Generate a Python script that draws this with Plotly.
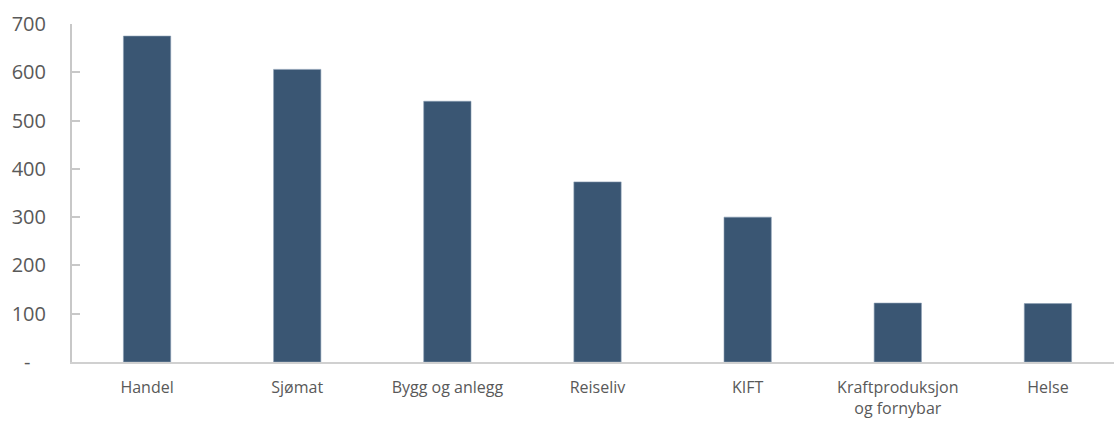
import plotly.graph_objects as go

categories = ["Handel", "Sjømat", "Bygg og anlegg", "Reiseliv", "KIFT", "Kraftproduksjon<br>og fornybar", "Helse"]
values = [675, 606, 540, 373, 300, 122, 121]
ytick_vals = [0, 100, 200, 300, 400, 500, 600, 700]
ytick_text = ["-\u00a0\u00a0\u00a0", "100", "200", "300", "400", "500", "600", "700"]

fig = go.Figure(go.Bar(
    x=list(range(len(categories))), y=values,
    marker=dict(color="#3A5673", line=dict(color="#8A9DB3", width=0.6)),
    width=0.315,
))
fig.update_layout(
    width=1114, height=424,
    margin=dict(l=72, r=0, t=24, b=62),
    paper_bgcolor="white", plot_bgcolor="white",
    showlegend=False,
    font=dict(family="Open Sans", color="#595959"),
)
fig.update_xaxes(
    tickmode="array", tickvals=list(range(len(categories))), ticktext=categories,
    range=[-0.5, 6.44], showgrid=False, showline=True, linecolor="#D0D0D0", linewidth=2,
    ticks="", tickfont=dict(size=16, color="#595959"), ticklabelstandoff=10,
    automargin=False,
)
fig.update_yaxes(
    range=[0, 700], tickmode="array", tickvals=ytick_vals, ticktext=ytick_text,
    showgrid=False, zeroline=False, showline=True, linecolor="#C8C8C8", linewidth=2,
    ticks="inside", ticklen=8, tickcolor="#C8C8C8", tickwidth=1.5,
    tickfont=dict(size=20, color="#595959"), ticklabelstandoff=20,
    automargin=False,
)
fig.write_html(
    "out.html",
    config={"displayModeBar": False},
    post_script="document.body.style.margin='0px';document.body.style.overflow='hidden';",
)
